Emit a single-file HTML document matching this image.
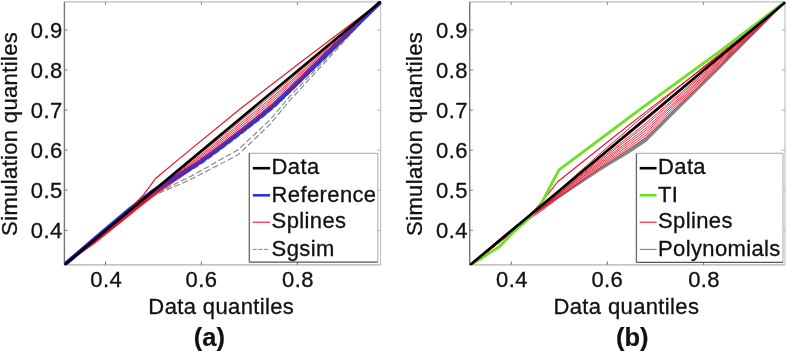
<!DOCTYPE html>
<html><head><meta charset="utf-8"><title>Q-Q plots</title>
<style>html,body{margin:0;padding:0;background:#fff}svg{display:block}svg text{font-family:"Liberation Sans",sans-serif}</style></head>
<body>
<svg width="788" height="351" viewBox="0 0 788 351" font-family='"Liberation Sans", sans-serif' fill="#111">
<rect width="788" height="351" fill="#fff"/>
<clipPath id="ca"><rect x="64.4" y="0.8" width="317.2" height="264.5"/></clipPath>
<clipPath id="cb"><rect x="469.7" y="0.8" width="316.3" height="264.5"/></clipPath>
<line x1="64.4" y1="1.8" x2="380.6" y2="1.8" stroke="#bdbdbd" stroke-width="1.2"/>
<line x1="380.6" y1="1.8" x2="380.6" y2="264.8" stroke="#c4c4c4" stroke-width="1.2"/>
<line x1="64.4" y1="264.8" x2="380.6" y2="264.8" stroke="#b0b0b0" stroke-width="1.3"/>
<line x1="64.4" y1="1.8" x2="64.4" y2="264.8" stroke="#777" stroke-width="1.4"/>
<line x1="105.5" y1="264.8" x2="105.5" y2="261.6" stroke="#666" stroke-width="1"/>
<line x1="105.5" y1="1.8" x2="105.5" y2="5.0" stroke="#888" stroke-width="1"/>
<text transform="translate(106.20,286.60) scale(1.035,1)" text-anchor="middle" font-size="21.30" font-weight="normal" stroke="#111" stroke-width="0.30" letter-spacing="0.40">0.4</text>
<line x1="201.4" y1="264.8" x2="201.4" y2="261.6" stroke="#666" stroke-width="1"/>
<line x1="201.4" y1="1.8" x2="201.4" y2="5.0" stroke="#888" stroke-width="1"/>
<text transform="translate(201.40,286.60) scale(1.035,1)" text-anchor="middle" font-size="21.30" font-weight="normal" stroke="#111" stroke-width="0.30" letter-spacing="0.40">0.6</text>
<line x1="297.3" y1="264.8" x2="297.3" y2="261.6" stroke="#666" stroke-width="1"/>
<line x1="297.3" y1="1.8" x2="297.3" y2="5.0" stroke="#888" stroke-width="1"/>
<text transform="translate(298.00,286.60) scale(1.035,1)" text-anchor="middle" font-size="21.30" font-weight="normal" stroke="#111" stroke-width="0.30" letter-spacing="0.40">0.8</text>
<line x1="64.4" y1="30.0" x2="67.6" y2="30.0" stroke="#777" stroke-width="1"/>
<line x1="380.6" y1="30.0" x2="377.4" y2="30.0" stroke="#aaa" stroke-width="1"/>
<text transform="translate(62.60,37.70) scale(1.035,1)" text-anchor="end" font-size="21.30" font-weight="normal" stroke="#111" stroke-width="0.30" letter-spacing="0.40">0.9</text>
<line x1="64.4" y1="70.0" x2="67.6" y2="70.0" stroke="#777" stroke-width="1"/>
<line x1="380.6" y1="70.0" x2="377.4" y2="70.0" stroke="#aaa" stroke-width="1"/>
<text transform="translate(62.60,77.70) scale(1.035,1)" text-anchor="end" font-size="21.30" font-weight="normal" stroke="#111" stroke-width="0.30" letter-spacing="0.40">0.8</text>
<line x1="64.4" y1="110.1" x2="67.6" y2="110.1" stroke="#777" stroke-width="1"/>
<line x1="380.6" y1="110.1" x2="377.4" y2="110.1" stroke="#aaa" stroke-width="1"/>
<text transform="translate(62.60,117.80) scale(1.035,1)" text-anchor="end" font-size="21.30" font-weight="normal" stroke="#111" stroke-width="0.30" letter-spacing="0.40">0.7</text>
<line x1="64.4" y1="150.2" x2="67.6" y2="150.2" stroke="#777" stroke-width="1"/>
<line x1="380.6" y1="150.2" x2="377.4" y2="150.2" stroke="#aaa" stroke-width="1"/>
<text transform="translate(62.60,157.90) scale(1.035,1)" text-anchor="end" font-size="21.30" font-weight="normal" stroke="#111" stroke-width="0.30" letter-spacing="0.40">0.6</text>
<line x1="64.4" y1="190.2" x2="67.6" y2="190.2" stroke="#777" stroke-width="1"/>
<line x1="380.6" y1="190.2" x2="377.4" y2="190.2" stroke="#aaa" stroke-width="1"/>
<text transform="translate(62.60,197.90) scale(1.035,1)" text-anchor="end" font-size="21.30" font-weight="normal" stroke="#111" stroke-width="0.30" letter-spacing="0.40">0.5</text>
<line x1="64.4" y1="230.3" x2="67.6" y2="230.3" stroke="#777" stroke-width="1"/>
<line x1="380.6" y1="230.3" x2="377.4" y2="230.3" stroke="#aaa" stroke-width="1"/>
<text transform="translate(62.60,238.00) scale(1.035,1)" text-anchor="end" font-size="21.30" font-weight="normal" stroke="#111" stroke-width="0.30" letter-spacing="0.40">0.4</text>
<line x1="469.7" y1="1.8" x2="785.0" y2="1.8" stroke="#bdbdbd" stroke-width="1.2"/>
<line x1="785.0" y1="1.8" x2="785.0" y2="264.8" stroke="#c4c4c4" stroke-width="1.2"/>
<line x1="469.7" y1="264.8" x2="785.0" y2="264.8" stroke="#b0b0b0" stroke-width="1.3"/>
<line x1="469.7" y1="1.8" x2="469.7" y2="264.8" stroke="#777" stroke-width="1.4"/>
<line x1="511.2" y1="264.8" x2="511.2" y2="261.6" stroke="#666" stroke-width="1"/>
<line x1="511.2" y1="1.8" x2="511.2" y2="5.0" stroke="#888" stroke-width="1"/>
<text transform="translate(511.90,286.60) scale(1.035,1)" text-anchor="middle" font-size="21.30" font-weight="normal" stroke="#111" stroke-width="0.30" letter-spacing="0.40">0.4</text>
<line x1="607.3" y1="264.8" x2="607.3" y2="261.6" stroke="#666" stroke-width="1"/>
<line x1="607.3" y1="1.8" x2="607.3" y2="5.0" stroke="#888" stroke-width="1"/>
<text transform="translate(607.30,286.60) scale(1.035,1)" text-anchor="middle" font-size="21.30" font-weight="normal" stroke="#111" stroke-width="0.30" letter-spacing="0.40">0.6</text>
<line x1="703.4" y1="264.8" x2="703.4" y2="261.6" stroke="#666" stroke-width="1"/>
<line x1="703.4" y1="1.8" x2="703.4" y2="5.0" stroke="#888" stroke-width="1"/>
<text transform="translate(704.10,286.60) scale(1.035,1)" text-anchor="middle" font-size="21.30" font-weight="normal" stroke="#111" stroke-width="0.30" letter-spacing="0.40">0.8</text>
<line x1="469.7" y1="30.0" x2="472.9" y2="30.0" stroke="#777" stroke-width="1"/>
<line x1="785.0" y1="30.0" x2="781.8" y2="30.0" stroke="#aaa" stroke-width="1"/>
<text transform="translate(467.90,37.70) scale(1.035,1)" text-anchor="end" font-size="21.30" font-weight="normal" stroke="#111" stroke-width="0.30" letter-spacing="0.40">0.9</text>
<line x1="469.7" y1="70.0" x2="472.9" y2="70.0" stroke="#777" stroke-width="1"/>
<line x1="785.0" y1="70.0" x2="781.8" y2="70.0" stroke="#aaa" stroke-width="1"/>
<text transform="translate(467.90,77.70) scale(1.035,1)" text-anchor="end" font-size="21.30" font-weight="normal" stroke="#111" stroke-width="0.30" letter-spacing="0.40">0.8</text>
<line x1="469.7" y1="110.1" x2="472.9" y2="110.1" stroke="#777" stroke-width="1"/>
<line x1="785.0" y1="110.1" x2="781.8" y2="110.1" stroke="#aaa" stroke-width="1"/>
<text transform="translate(467.90,117.80) scale(1.035,1)" text-anchor="end" font-size="21.30" font-weight="normal" stroke="#111" stroke-width="0.30" letter-spacing="0.40">0.7</text>
<line x1="469.7" y1="150.2" x2="472.9" y2="150.2" stroke="#777" stroke-width="1"/>
<line x1="785.0" y1="150.2" x2="781.8" y2="150.2" stroke="#aaa" stroke-width="1"/>
<text transform="translate(467.90,157.90) scale(1.035,1)" text-anchor="end" font-size="21.30" font-weight="normal" stroke="#111" stroke-width="0.30" letter-spacing="0.40">0.6</text>
<line x1="469.7" y1="190.2" x2="472.9" y2="190.2" stroke="#777" stroke-width="1"/>
<line x1="785.0" y1="190.2" x2="781.8" y2="190.2" stroke="#aaa" stroke-width="1"/>
<text transform="translate(467.90,197.90) scale(1.035,1)" text-anchor="end" font-size="21.30" font-weight="normal" stroke="#111" stroke-width="0.30" letter-spacing="0.40">0.5</text>
<line x1="469.7" y1="230.3" x2="472.9" y2="230.3" stroke="#777" stroke-width="1"/>
<line x1="785.0" y1="230.3" x2="781.8" y2="230.3" stroke="#aaa" stroke-width="1"/>
<text transform="translate(467.90,238.00) scale(1.035,1)" text-anchor="end" font-size="21.30" font-weight="normal" stroke="#111" stroke-width="0.30" letter-spacing="0.40">0.4</text>
<g clip-path="url(#ca)"><path d="M64.4,264.8 L144.0,199.6 L190.0,179.8 L238.0,154.9 L270.0,124.3 L290.0,100.2 L355.0,29.6 L372.0,11.0 L380.6,1.8" fill="none" stroke="#7c8686" stroke-width="1.1" stroke-dasharray="6 2.5"/>
<path d="M64.4,264.8 L146.0,197.9 L190.0,176.8 L238.5,149.5 L270.0,119.8 L290.0,96.2 L355.0,28.6 L372.0,11.0 L380.6,1.8" fill="none" stroke="#7c8686" stroke-width="1.1" stroke-dasharray="6 2.5"/>
<path d="M64.4,264.8 L152.0,192.4 L180.0,176.7 L200.0,165.0 L220.0,150.4 L240.0,135.2 L260.0,119.6 L275.0,107.1 L290.0,92.7 L320.0,63.5 L350.0,34.5 L380.6,1.8" fill="none" stroke="#7c8686" stroke-width="1.1" stroke-dasharray="6 2.5"/>
<path d="M64.4,264.8 L80.0,252.3 L100.0,236.2 L120.0,219.6 L138.0,206.5 L152.0,194.1 L180.0,169.9 L200.0,153.9 L225.0,133.6 L250.0,113.1 L272.0,94.9 L295.0,75.3 L325.0,49.6 L355.0,23.8 L380.6,1.8" fill="none" stroke="#e8142c" stroke-width="0.9"/>
<path d="M64.4,264.8 L80.0,252.4 L100.0,236.6 L120.0,220.1 L138.0,206.7 L152.0,194.4 L180.0,170.9 L200.0,155.6 L225.0,135.7 L250.0,115.5 L272.0,97.3 L295.0,77.4 L325.0,50.9 L355.0,24.4 L380.6,1.8" fill="none" stroke="#e8142c" stroke-width="0.9"/>
<path d="M64.4,264.8 L80.0,252.8 L100.0,237.3 L120.0,220.9 L138.0,204.6 L152.0,193.0 L180.0,171.8 L200.0,157.1 L225.0,137.6 L250.0,117.6 L272.0,99.5 L295.0,79.2 L325.0,52.1 L355.0,25.0 L380.6,1.8" fill="none" stroke="#e8142c" stroke-width="0.9"/>
<path d="M64.4,264.8 L80.0,252.0 L100.0,235.5 L120.0,218.9 L138.0,207.6 L152.0,195.2 L180.0,172.8 L200.0,158.6 L225.0,139.5 L250.0,119.7 L272.0,101.7 L295.0,81.1 L325.0,53.3 L355.0,25.6 L380.6,1.8" fill="none" stroke="#e8142c" stroke-width="0.9"/>
<path d="M64.4,264.8 L80.0,252.3 L100.0,236.2 L120.0,219.7 L138.0,205.3 L152.0,193.7 L180.0,173.6 L200.0,160.0 L225.0,141.2 L250.0,121.7 L272.0,103.7 L295.0,82.7 L325.0,54.4 L355.0,26.1 L380.6,1.8" fill="none" stroke="#e8142c" stroke-width="0.9"/>
<path d="M64.4,264.8 L80.0,253.3 L100.0,238.4 L120.0,222.1 L138.0,206.2 L152.0,194.6 L180.0,176.0 L200.0,163.7 L225.0,145.8 L250.0,126.9 L272.0,109.1 L295.0,87.3 L325.0,57.4 L355.0,27.5 L380.6,1.8" fill="none" stroke="#e8142c" stroke-width="0.9"/>
<path d="M64.4,264.8 L75.0,256.5 L95.0,240.8 L120.0,220.4 L140.0,203.9 L158.0,190.2 L185.0,172.9 L215.0,152.1 L250.0,124.7 L272.0,106.9 L295.0,85.6 L325.0,56.0 L355.0,27.1 L380.6,1.8" fill="none" stroke="#e8142c" stroke-width="1.2"/>
<path d="M64.4,264.8 L75.0,256.9 L95.0,241.7 L120.0,221.6 L140.0,205.2 L158.0,191.4 L185.0,173.5 L215.0,152.4 L250.0,124.7 L272.0,106.9 L295.0,85.6 L325.0,56.0 L355.0,27.1 L380.6,1.8" fill="none" stroke="#e8142c" stroke-width="1.2"/>
<path d="M64.4,264.8 L75.0,257.2 L95.0,242.7 L120.0,222.8 L140.0,206.5 L158.0,192.6 L185.0,174.1 L215.0,152.8 L250.0,124.7 L272.0,106.9 L295.0,85.6 L325.0,56.0 L355.0,27.1 L380.6,1.8" fill="none" stroke="#e8142c" stroke-width="1.2"/>
<path d="M64.4,264.8 L100.0,234.4 L130.0,209.2 L152.0,191.9 L180.0,174.6 L200.0,162.0 L220.0,147.4 L240.0,132.2 L260.0,116.6 L275.0,104.1 L290.0,89.7 L320.0,60.5 L350.0,31.5 L380.6,1.8" fill="none" stroke="#2c33d6" stroke-width="4.3" stroke-linejoin="round"/>
<path d="M64.4,264.8 L80.0,252.8 L100.0,237.4 L120.0,221.1 L138.0,205.3 L152.0,193.8 L180.0,174.2 L200.0,161.0 L225.0,142.4 L250.0,123.0 L272.0,105.1 L295.0,83.9 L325.0,55.2 L355.0,26.5 L380.6,1.8" fill="none" stroke="#e8142c" stroke-width="0.9"/>
<path d="M64.4,264.8 L120.0,219.0 L143.0,195.5 L155.6,178.5 L180.0,158.1 L240.0,109.0 L300.0,62.8 L380.6,1.8" fill="none" stroke="#e8142c" stroke-width="1.2"/>
<path d="M64.4,264.8 L380.6,1.8" fill="none" stroke="#000" stroke-width="2.6"/></g>
<g clip-path="url(#cb)"><path d="M469.7,264.8 L480.0,256.2 L495.0,243.7 L518.0,224.5 L530.0,216.4 L545.0,206.1 L560.0,195.7 L600.0,168.5 L630.0,149.2 L646.0,138.3 L670.0,114.6 L720.0,66.3 L760.0,26.8 L785.0,1.8" fill="none" stroke="#7d8a88" stroke-width="1.3"/>
<path d="M469.7,264.8 L480.0,256.2 L495.0,243.7 L518.0,224.5 L530.0,216.4 L545.0,206.3 L560.0,195.9 L600.0,168.9 L630.0,149.9 L646.0,139.1 L670.0,115.2 L720.0,66.7 L760.0,26.9 L785.0,1.8" fill="none" stroke="#7d8a88" stroke-width="1.3"/>
<path d="M469.7,264.8 L480.0,256.2 L495.0,243.7 L518.0,224.5 L530.0,216.5 L545.0,206.4 L560.0,196.1 L600.0,169.4 L630.0,150.5 L646.0,139.8 L670.0,115.8 L720.0,67.1 L760.0,27.1 L785.0,1.8" fill="none" stroke="#7d8a88" stroke-width="1.3"/>
<path d="M469.7,264.8 L480.0,256.2 L495.0,243.7 L518.0,224.5 L530.0,216.6 L545.0,206.6 L560.0,196.3 L600.0,169.8 L630.0,151.2 L646.0,140.6 L670.0,116.5 L720.0,67.4 L760.0,27.2 L785.0,1.8" fill="none" stroke="#7d8a88" stroke-width="1.3"/>
<path d="M469.7,264.8 L480.0,256.2 L495.0,243.7 L518.0,224.5 L530.0,216.6 L545.0,206.7 L560.0,196.6 L600.0,170.3 L630.0,151.9 L646.0,141.3 L670.0,117.1 L720.0,67.8 L760.0,27.4 L785.0,1.8" fill="none" stroke="#7d8a88" stroke-width="1.3"/>
<path d="M469.7,264.8 L480.0,257.5 L495.0,245.4 L518.0,226.7 L530.0,214.8 L545.0,202.6 L560.0,190.3 L600.0,157.7 L630.0,133.4 L646.0,120.3 L670.0,99.9 L720.0,57.3 L760.0,23.2 L785.0,1.8" fill="none" stroke="#e8142c" stroke-width="0.85"/>
<path d="M469.7,264.8 L480.0,257.5 L495.0,245.4 L518.0,226.7 L530.0,217.4 L545.0,205.4 L560.0,192.3 L600.0,159.4 L630.0,135.8 L646.0,123.1 L670.0,102.2 L720.0,58.7 L760.0,23.7 L785.0,1.8" fill="none" stroke="#e8142c" stroke-width="0.85"/>
<path d="M469.7,264.8 L480.0,257.3 L495.0,245.2 L518.0,226.3 L530.0,217.2 L545.0,205.5 L560.0,192.7 L600.0,160.7 L630.0,137.8 L646.0,125.3 L670.0,104.0 L720.0,59.8 L760.0,24.2 L785.0,1.8" fill="none" stroke="#e8142c" stroke-width="0.85"/>
<path d="M469.7,264.8 L480.0,257.6 L495.0,245.5 L518.0,226.8 L530.0,215.4 L545.0,204.1 L560.0,192.6 L600.0,162.4 L630.0,140.2 L646.0,128.1 L670.0,106.3 L720.0,61.2 L760.0,24.7 L785.0,1.8" fill="none" stroke="#e8142c" stroke-width="0.85"/>
<path d="M469.7,264.8 L480.0,257.7 L495.0,245.7 L518.0,227.0 L530.0,217.1 L545.0,206.0 L560.0,194.0 L600.0,163.7 L630.0,142.2 L646.0,130.3 L670.0,108.1 L720.0,62.3 L760.0,25.2 L785.0,1.8" fill="none" stroke="#e8142c" stroke-width="0.85"/>
<path d="M469.7,264.8 L480.0,256.9 L495.0,244.6 L518.0,225.7 L530.0,215.9 L545.0,205.0 L560.0,194.0 L600.0,165.1 L630.0,144.3 L646.0,132.7 L670.0,110.0 L720.0,63.5 L760.0,25.7 L785.0,1.8" fill="none" stroke="#e8142c" stroke-width="0.85"/>
<path d="M469.7,264.8 L480.0,257.9 L495.0,245.9 L518.0,227.3 L530.0,217.2 L545.0,206.6 L560.0,195.3 L600.0,166.6 L630.0,146.4 L646.0,135.1 L670.0,112.0 L720.0,64.7 L760.0,26.1 L785.0,1.8" fill="none" stroke="#e8142c" stroke-width="0.85"/>
<path d="M469.7,264.8 L480.0,257.6 L495.0,245.6 L518.0,226.9 L530.0,218.7 L545.0,208.3 L560.0,196.6 L600.0,167.9 L630.0,148.3 L646.0,137.3 L670.0,113.8 L720.0,65.8 L760.0,26.6 L785.0,1.8" fill="none" stroke="#e8142c" stroke-width="0.85"/>
<path d="M469.7,264.8 L530.0,215.0 L547.0,195.5 L558.0,181.5 L616.0,135.2 L650.0,108.6 L720.0,55.0 L785.0,1.8" fill="none" stroke="#e8142c" stroke-width="1.1"/>
<path d="M469.7,264.8 L556.0,192.8 L600.0,153.7 L640.0,119.0 L700.0,69.7 L760.0,21.7 L785.0,1.8" fill="none" stroke="#e8142c" stroke-width="1.0"/>
<path d="M469.7,264.8 L480.0,259.2 L490.0,252.6 L499.2,246.8 L512.0,233.2 L525.0,222.0 L534.0,212.6 L540.5,205.0 L559.0,169.9 L640.0,109.3 L720.0,51.2 L785.0,1.8" fill="none" stroke="#6fe024" stroke-width="2.9" stroke-linejoin="round"/>
<path d="M469.7,265.4 L785.0,2.4" fill="none" stroke="#000" stroke-width="2.6"/></g>
<rect x="249.3" y="153.3" width="128.5" height="108.9" fill="#fff"/>
<line x1="249.3" y1="153.3" x2="377.8" y2="153.3" stroke="#b8b8b8" stroke-width="1.2"/>
<line x1="377.8" y1="153.3" x2="377.8" y2="262.2" stroke="#b8b8b8" stroke-width="1.2"/>
<line x1="249.3" y1="262.2" x2="377.8" y2="262.2" stroke="#555" stroke-width="1.3"/>
<line x1="249.3" y1="153.3" x2="249.3" y2="262.2" stroke="#666" stroke-width="1.3"/>
<line x1="252.8" y1="168.2" x2="270.1" y2="168.2" stroke="#000" stroke-width="2.6"/>
<text transform="translate(271.60,174.40) scale(1.035,1)" text-anchor="start" font-size="21.30" font-weight="normal" stroke="#111" stroke-width="0.30" letter-spacing="0.35">Data</text>
<line x1="252.8" y1="195.3" x2="270.1" y2="195.3" stroke="#2c33d6" stroke-width="2.6"/>
<text transform="translate(271.60,201.50) scale(1.035,1)" text-anchor="start" font-size="21.30" font-weight="normal" stroke="#111" stroke-width="0.30" letter-spacing="0.35">Reference</text>
<line x1="252.8" y1="222.2" x2="270.1" y2="222.2" stroke="#e8142c" stroke-width="1.1"/>
<text transform="translate(271.60,228.40) scale(1.035,1)" text-anchor="start" font-size="21.30" font-weight="normal" stroke="#111" stroke-width="0.30" letter-spacing="0.35">Splines</text>
<line x1="252.8" y1="249.4" x2="270.1" y2="249.4" stroke="#7c8686" stroke-width="1.0" stroke-dasharray="4 1.6"/>
<text transform="translate(271.60,255.60) scale(1.035,1)" text-anchor="start" font-size="21.30" font-weight="normal" stroke="#111" stroke-width="0.30" letter-spacing="0.35">Sgsim</text>
<rect x="636.4" y="153.3" width="146.6" height="109.1" fill="#fff"/>
<line x1="636.4" y1="153.3" x2="783.0" y2="153.3" stroke="#b8b8b8" stroke-width="1.2"/>
<line x1="783.0" y1="153.3" x2="783.0" y2="262.4" stroke="#b8b8b8" stroke-width="1.2"/>
<line x1="636.4" y1="262.4" x2="783.0" y2="262.4" stroke="#555" stroke-width="1.3"/>
<line x1="636.4" y1="153.3" x2="636.4" y2="262.4" stroke="#666" stroke-width="1.3"/>
<line x1="639.7" y1="168.2" x2="656.6" y2="168.2" stroke="#000" stroke-width="2.6"/>
<text transform="translate(658.00,174.40) scale(1.035,1)" text-anchor="start" font-size="21.30" font-weight="normal" stroke="#111" stroke-width="0.30" letter-spacing="0.35">Data</text>
<line x1="639.7" y1="195.3" x2="656.6" y2="195.3" stroke="#6fe024" stroke-width="2.6"/>
<text transform="translate(658.00,201.50) scale(1.035,1)" text-anchor="start" font-size="21.30" font-weight="normal" stroke="#111" stroke-width="0.30" letter-spacing="0.35">TI</text>
<line x1="639.7" y1="222.2" x2="656.6" y2="222.2" stroke="#e8142c" stroke-width="1.1"/>
<text transform="translate(658.00,228.40) scale(1.035,1)" text-anchor="start" font-size="21.30" font-weight="normal" stroke="#111" stroke-width="0.30" letter-spacing="0.35">Splines</text>
<line x1="639.7" y1="249.4" x2="656.6" y2="249.4" stroke="#7d8a88" stroke-width="1.1"/>
<text transform="translate(658.00,255.60) scale(1.035,1)" text-anchor="start" font-size="21.30" font-weight="normal" stroke="#111" stroke-width="0.30" letter-spacing="0.35">Polynomials</text>
<text transform="translate(221.30,313.60) scale(1.035,1)" text-anchor="middle" font-size="21.30" font-weight="normal" stroke="#111" stroke-width="0.30" letter-spacing="0.35">Data quantiles</text>
<text transform="translate(626.40,313.60) scale(1.035,1)" text-anchor="middle" font-size="21.30" font-weight="normal" stroke="#111" stroke-width="0.30" letter-spacing="0.35">Data quantiles</text>
<text transform="translate(17.20,133.90) rotate(-90) scale(1.035,1)" text-anchor="middle" font-size="21.30" font-weight="normal" stroke="#111" stroke-width="0.30" letter-spacing="0.33">Simulation quantiles</text>
<text transform="translate(421.90,133.90) rotate(-90) scale(1.035,1)" text-anchor="middle" font-size="21.30" font-weight="normal" stroke="#111" stroke-width="0.30" letter-spacing="0.33">Simulation quantiles</text>
<text transform="translate(209.30,346.00) scale(1.000,1)" text-anchor="middle" font-size="25.50" font-weight="bold" stroke="#111" stroke-width="0.20" letter-spacing="0.00">(a)</text>
<text transform="translate(632.20,346.00) scale(1.000,1)" text-anchor="middle" font-size="25.50" font-weight="bold" stroke="#111" stroke-width="0.20" letter-spacing="0.00">(b)</text>
</svg>
</body></html>
